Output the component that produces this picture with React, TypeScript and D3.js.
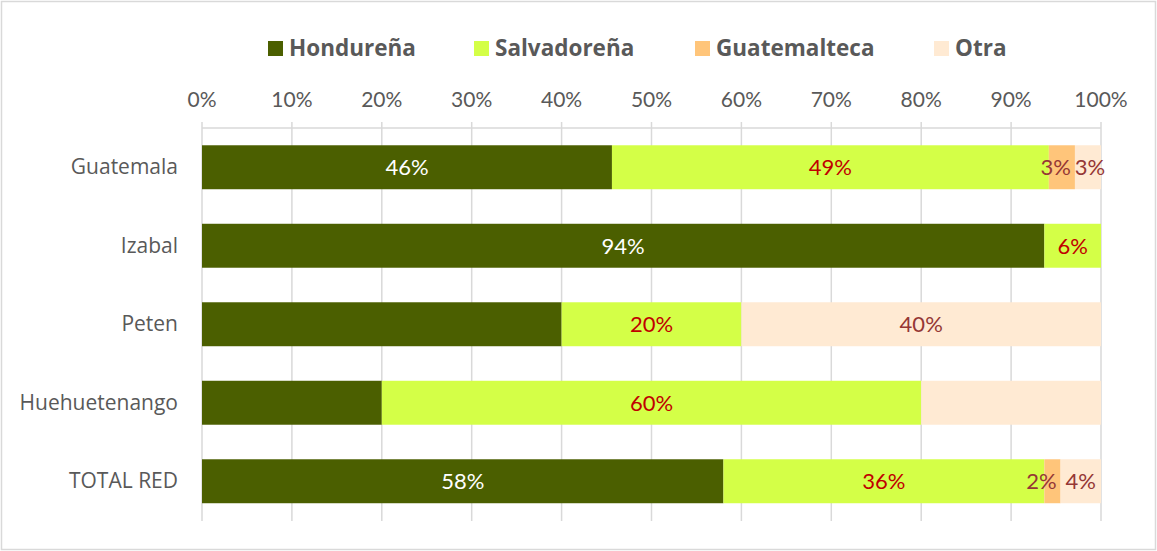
import React from "react";
import * as d3 from "d3";

const categories = ["Guatemala", "Izabal", "Peten", "Huehuetenango", "TOTAL RED"];
const seriesNames = ["Hondureña", "Salvadoreña", "Guatemalteca", "Otra"];
const hondurena = [45.6, 93.7, 40, 20, 58.0];
const salvadorena = [48.6, 6.3, 20, 60, 35.7];
const guatemalteca = [2.9, 0, 0, 0, 1.8];
const otra = [2.9, 0, 40, 20, 4.5];
// displayed data labels (null = not shown in the original)
const hondLabels = ["46%", "94%", null, null, "58%"];
const salvLabels = ["49%", "6%", "20%", "60%", "36%"];
const guatLabels = ["3%", null, null, null, "2%"];
const otraLabels = ["3%", null, "40%", null, "4%"];
const tickValues = [0, 10, 20, 30, 40, 50, 60, 70, 80, 90, 100];

const colors = ["#4B5F00", "#D4FF47", "#FFC57A", "#FFEAD3"];
const labelColors = ["#FFFFFF", "#C00000", "#953735", "#953735"];

export default function App() {
  const W = 1157, H = 551;
  const x = d3.scaleLinear().domain([0, 100]).range([202, 1101]);
  const y = d3.scaleBand().domain(categories).range([128, 520.5]).paddingInner(0.44).paddingOuter(0.22);
  const values = [hondurena, salvadorena, guatemalteca, otra];
  const labels = [hondLabels, salvLabels, guatLabels, otraLabels];
  const rows = categories.map((c, i) => {
    const o: any = { cat: c };
    seriesNames.forEach((s, k) => (o[s] = values[k][i]));
    return o;
  });
  const stacked = d3.stack().keys(seriesNames)(rows);
  const txt = "#595959";
  const legendX = [268, 474, 695, 934];
  const labelFs = 22;

  return (
    <svg width={W} height={H} style={{ position: "absolute", left: 0, top: 0, background: "#fff" }}>
      <rect x={1.5} y={1.5} width={W - 3} height={H - 3} fill="#fff" stroke="#D9D9D9" strokeWidth={1.5} />
      {/* legend */}
      {seriesNames.map((s, k) => (
        <g key={s}>
          <rect x={legendX[k]} y={41} width={15} height={15} fill={colors[k]} />
          <text x={legendX[k] + 21} y={56} fontFamily="Open Sans, sans-serif" fontWeight="bold" fontSize={22.5} fill={txt}>
            {s}
          </text>
        </g>
      ))}
      {/* gridlines and ticks */}
      {tickValues.map((t) => (
        <g key={t}>
          <line x1={x(t)} x2={x(t)} y1={122} y2={521} stroke="#D9D9D9" strokeWidth={1.5} />
          <text x={x(t)} y={107} textAnchor="middle" fontFamily="Lato, sans-serif" fontSize={21} fill={txt}>
            {t}%
          </text>
        </g>
      ))}
      <line x1={x(0)} x2={x(100)} y1={128} y2={128} stroke="#D9D9D9" strokeWidth={1.5} />
      {/* bars */}
      {stacked.map((layer, k) => (
        <g key={layer.key}>
          {layer.map((d: any, i: number) =>
            d[1] - d[0] > 0 ? (
              <rect
                key={i}
                x={x(d[0])}
                y={y(categories[i])}
                width={x(d[1]) - x(d[0])}
                height={y.bandwidth()}
                fill={colors[k]}
              />
            ) : null
          )}
        </g>
      ))}
      {/* data labels */}
      {stacked.map((layer, k) => (
        <g key={"l" + layer.key}>
          {layer.map((d: any, i: number) => {
            const lab = labels[k][i];
            if (!lab) return null;
            const x0 = x(d[0]), x1 = x(d[1]);
            const approxW = lab.length * labelFs * 0.64;
            let lx = (x0 + x1) / 2;
            let anchor: "middle" | "end" | "start" = "middle";
            if (approxW > x1 - x0) {
              if (k === 2) {
                lx = x1 - 4;
                anchor = "end";
              } else {
                lx = Math.max(lx, x0 + 15);
              }
            }
            return (
              <text
                key={i}
                x={lx}
                y={(y(categories[i]) as number) + y.bandwidth() / 2 + 8}
                textAnchor={anchor}
                fontFamily="Lato, sans-serif"
                fontSize={labelFs}
                fill={labelColors[k]}
              >
                {lab}
              </text>
            );
          })}
        </g>
      ))}
      {/* category labels */}
      {categories.map((c) => (
        <text
          key={c}
          x={178}
          y={(y(c) as number) + y.bandwidth() / 2 + 7}
          textAnchor="end"
          fontFamily="Open Sans, sans-serif"
          fontSize={21}
          fill={txt}
        >
          {c}
        </text>
      ))}
    </svg>
  );
}
